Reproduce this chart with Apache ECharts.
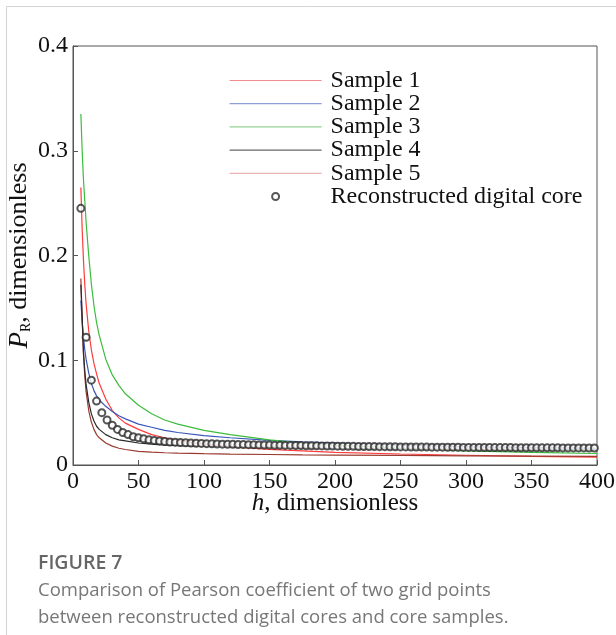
<!DOCTYPE html>
<html>
<head>
<meta charset="utf-8">
<script src="https://cdn.jsdelivr.net/npm/echarts@6/dist/echarts.min.js"></script>
<style>
  html, body { margin: 0; padding: 0; background: #fff; }
  #chart { width: 616px; height: 635px; }
</style>
</head>
<body>
<div id="chart"></div>
<script>
// ---- data ----
const H_LINE = [6,7,8,9,10,12,14,16,18,20,25,30,35,40,50,60,70,80,100,120,150,175,200,250,300,350,400];
const SAMPLE1 = [.265,.225,.195,.172,.154,.128,.110,.097,.087,.078,.063,.052,.045,.040,.034,.029,.026,.0235,.020,.0175,.015,.0135,.012,.0105,.0093,.0083,.0075];
const SAMPLE2 = [.157,.137,.122,.110,.101,.088,.078,.071,.066,.062,.056,.051,.047,.044,.039,.036,.033,.031,.028,.026,.0235,.022,.021,.019,.0175,.0165,.016];
const SAMPLE3 = [.335,.300,.272,.252,.232,.200,.173,.152,.136,.124,.101,.086,.076,.068,.057,.049,.043,.039,.033,.029,.024,.021,.019,.016,.0135,.012,.011];
const SAMPLE4 = [.172,.140,.108,.090,.077,.060,.049,.042,.037,.034,.029,.026,.024,.023,.021,.020,.019,.0185,.018,.0175,.017,.0165,.016,.0155,.015,.015,.0145];
const SAMPLE5 = [.178,.140,.105,.085,.070,.052,.041,.034,.029,.026,.021,.018,.016,.0148,.013,.0122,.0117,.0113,.0108,.0104,.0100,.0097,.0095,.0091,.0088,.0085,.0082];
const H_CORE = [6,10,14,18,22,26,30,34,38,42,46,50,54,58,62,66,70,74,78,82,86,90,94,98,
  102,106,110,114,118,122,126,130,134,138,142,146,150,154,158,162,166,170,174,178,182,186,190,194,198,
  202,206,210,214,218,222,226,230,234,238,242,246,250,254,258,262,266,270,274,278,282,286,290,294,298,
  302,306,310,314,318,322,326,330,334,338,342,346,350,354,358,362,366,370,374,378,382,386,390,394,398];
const CORE = [.245,.122,.081,.061,.050,.043,.038,.034,.031,.029,.027,.026,.025,.024,.0235,.023,.0225,.022,.0218,.0215,.0212,.021,.0208,.0206,
  .0204,.0202,.0200,.0199,.0198,.0197,.0196,.0195,.0194,.0193,.0192,.0191,.0190,.0189,.0188,.0187,.0187,.0186,.0185,.0184,.0184,.0183,.0182,.0181,.0181,
  .0180,.0179,.0179,.0178,.0177,.0177,.0176,.0176,.0175,.0175,.0174,.0174,.0173,.0173,.0172,.0172,.0171,.0171,.0170,.0170,.0170,.0169,.0169,.0169,.0168,
  .0168,.0168,.0167,.0167,.0167,.0166,.0166,.0166,.0166,.0165,.0165,.0165,.0165,.0164,.0164,.0164,.0164,.0164,.0163,.0163,.0163,.0163,.0163,.0162,.0162];
const SERIES_NAMES = ['Sample 1','Sample 2','Sample 3','Sample 4','Sample 5','Reconstructed digital core'];
const CAPTION_TITLE = 'FIGURE 7';
const CAPTION_TEXT = 'Comparison of Pearson coefficient of two grid points\nbetween reconstructed digital cores and core samples.';

const zip = (xs, ys) => xs.map((x, i) => [x, ys[i]]);
const serif = 'Liberation Serif';

const lineColors = ['#ff3b3b', '#3a56b8', '#3cbc3c', '#2a2a2a', '#9a3a30'];
const legendColors = ['#f28c8c', '#8e9fd6', '#94d294', '#666666', '#ecb4b4'];
const lineData = [SAMPLE1, SAMPLE2, SAMPLE3, SAMPLE4, SAMPLE5];
const CLEAR = 'rgba(0,0,0,0)';

const series = lineData.map((vals, i) => ({
  name: SERIES_NAMES[i],
  type: 'line',
  data: zip(H_LINE, vals),
  symbol: 'none',
  showSymbol: false,
  smooth: false,
  lineStyle: { color: lineColors[i], width: 1.2 },
  itemStyle: { color: lineColors[i] },
  z: 2 + (i === 3 ? 1 : 0)
}));
series.push({
  name: SERIES_NAMES[5],
  type: 'scatter',
  data: zip(H_CORE, CORE),
  symbol: 'emptyCircle',
  symbolSize: 7,
  itemStyle: { color: '#2a2a2a', borderColor: '#2a2a2a', borderWidth: 1.1 },
  z: 5
});

const chart = echarts.init(document.getElementById('chart'), null, { renderer: 'canvas' });
chart.setOption({
  animation: false,
  backgroundColor: '#fff',
  title: [
    { text: CAPTION_TITLE, left: 33, top: 548,
      textStyle: { fontFamily: 'Open Sans', fontSize: 19.5, fontWeight: 600, color: '#666' } },
    { text: CAPTION_TEXT, left: 33, top: 572,
      textStyle: { fontFamily: 'Open Sans', fontSize: 18.5, fontWeight: 'normal', color: '#777', lineHeight: 27 } }
  ],
  graphic: [
    { type: 'rect', shape: { x: 6.5, y: 6.5, width: 800, height: 800 },
      style: { fill: 'none', stroke: '#d4d4d4', lineWidth: 1 }, silent: true }
  ],
  grid: { left: 73, right: 19, top: 46, bottom: 170, show: true, borderColor: '#555', borderWidth: 1, outerBoundsMode: 'none' },
  legend: {
    orient: 'vertical', left: 229, top: 68.5, padding: 0,
    itemWidth: 92, itemHeight: 7, itemGap: -0.8,
    textStyle: { fontFamily: serif, fontSize: 24, color: '#111', lineHeight: 23, padding: [0, 0, 0, 4] },
    data: SERIES_NAMES.map((n, i) => i < 5
      ? { name: n, lineStyle: { color: legendColors[i], width: 1.2 },
          itemStyle: { color: CLEAR, borderColor: CLEAR, borderWidth: 0, opacity: 0 } }
      : { name: n })
  },
  xAxis: {
    type: 'value', min: 0, max: 400, interval: 50,
    axisLine: { show: true, lineStyle: { color: '#555' } },
    axisTick: { show: true, inside: true, length: 5, lineStyle: { color: '#555' } },
    splitLine: { show: false },
    axisLabel: { fontFamily: serif, fontSize: 24, color: '#111', margin: 5 },
    name: '{i|h}, dimensionless',
    nameLocation: 'middle', nameGap: 26, nameMoveOverlap: false,
    nameTextStyle: { fontFamily: serif, fontSize: 25, color: '#111',
      rich: { i: { fontFamily: serif, fontSize: 25, fontStyle: 'italic', color: '#111' } } }
  },
  yAxis: {
    type: 'value', min: 0, max: 0.4, interval: 0.1,
    axisLine: { show: true, lineStyle: { color: '#555' } },
    axisTick: { show: true, inside: true, length: 5, lineStyle: { color: '#555' } },
    splitLine: { show: false },
    axisLabel: { fontFamily: serif, fontSize: 24, color: '#111', margin: 5,
      formatter: v => v === 0 ? '0' : v.toFixed(1) },
    name: '{p|P}{r|R}{t|, dimensionless}',
    nameLocation: 'middle', nameGap: 40, nameMoveOverlap: false,
    nameTextStyle: { fontFamily: serif, fontSize: 26, color: '#111',
      rich: {
        p: { fontFamily: serif, fontSize: 27, fontStyle: 'italic', color: '#111' },
        r: { fontFamily: serif, fontSize: 14, color: '#111', verticalAlign: 'bottom', padding: [12, 0, 0, 0] },
        t: { fontFamily: serif, fontSize: 26, color: '#111' }
      } }
  },
  series: series
});
</script>
</body>
</html>
